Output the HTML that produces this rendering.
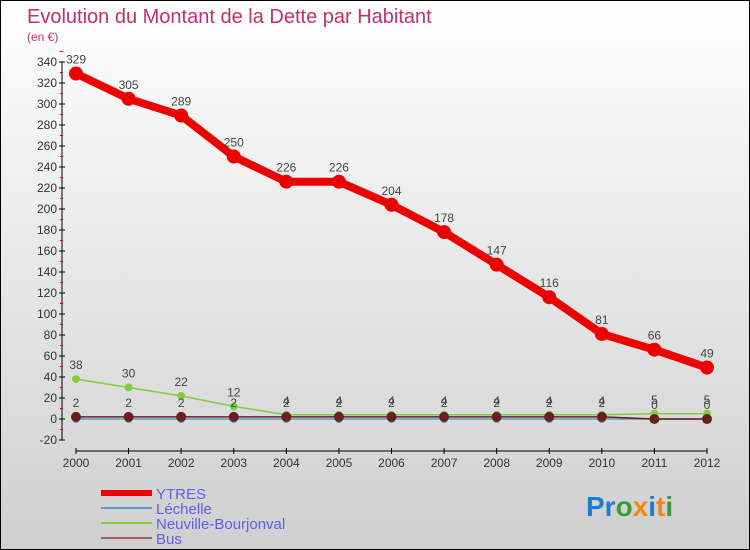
<!DOCTYPE html>
<html><head><meta charset="utf-8"><style>
body{margin:0}
#c{width:750px;height:550px;position:relative;box-sizing:border-box;border:1px solid #000;background:linear-gradient(#ffffff,#cfcfcf);font-family:"Liberation Sans",sans-serif;overflow:hidden}
</style></head><body>
<div id="c">
<svg id="s" width="750" height="550" style="position:absolute;left:0;top:0">
<text x="26" y="22" font-size="20" fill="#c0306a">Evolution du Montant de la Dette par Habitant</text>
<text x="26" y="40" font-size="12" fill="#c0306a">(en €)</text>
<g id="grid"></g>
<g id="series"></g>
<g id="legend"></g>
<text x="585" y="515" font-size="28" font-weight="bold"><tspan fill="#1a7ed6">Pr</tspan><tspan fill="#3a9a3a">o</tspan><tspan fill="#f08a10">x</tspan><tspan fill="#1a7ed6">i</tspan><tspan fill="#f08a10">t</tspan><tspan fill="#3a9a3a">i</tspan></text>
</svg>
</div>
<script>
const years=[2000,2001,2002,2003,2004,2005,2006,2007,2008,2009,2010,2011,2012];
const ytres=[329,305,289,250,226,226,204,178,147,116,81,66,49];
const lechelle=[0,0,0,0,0,0,0,0,0,0,0,0,0];
const neuville=[38,30,22,12,4,4,4,4,4,4,4,5,5];
const bus=[2,2,2,2,2,2,2,2,2,2,2,0,0];
const yTicks=[-20,0,20,40,60,80,100,120,140,160,180,200,220,240,260,280,300,320,340];
const NS="http://www.w3.org/2000/svg";
const X=i=>75+i*(706-75)/12;
const Y=v=>418-v*1.05;
function mk(tag,attrs,parent,txt){const e=document.createElementNS(NS,tag);for(const k in attrs)e.setAttribute(k,attrs[k]);if(txt!==undefined)e.textContent=txt;parent.appendChild(e);return e;}
const g=document.getElementById('grid'),sg=document.getElementById('series'),lg=document.getElementById('legend');
let a=mk('line',{x1:61,y1:Y(340),x2:61,y2:Y(-20),stroke:'#000'},g);


a=mk('line',{x1:75,y1:450,x2:706,y2:450,stroke:'#000'},g);


yTicks.forEach(v=>{
 mk('line',{x1:58,y1:Y(v),x2:64,y2:Y(v),stroke:'#000'},g);
 mk('line',{x1:59,y1:Y(v+10),x2:62,y2:Y(v+10),stroke:'#e00'},g);
 const t=mk('text',{x:56,y:Y(v)+4,'font-size':12,fill:'#333','text-anchor':'end'},g,v);
 
 
});
years.forEach((yr,i)=>{
 mk('line',{x1:X(i),y1:447,x2:X(i),y2:453,stroke:'#000'},g);
 const t=mk('text',{x:X(i),y:466,'font-size':12,fill:'#333','text-anchor':'middle'},g,yr);
 
 
});
function series(vals,color,w,r,name,labels){
 const grp=mk('g',{},sg);
 
 
 mk('polyline',{points:vals.map((v,i)=>X(i)+','+Y(v)).join(' '),fill:'none',stroke:color,'stroke-width':w,'stroke-linejoin':'round'},grp);
 vals.forEach((v,i)=>{
  const c=mk('circle',{cx:X(i),cy:Y(v),r:r,fill:color},grp);
  
  
  if(labels){const t=mk('text',{x:X(i),y:Y(v)-10,'font-size':12,fill:'#444','text-anchor':'middle'},grp,v);
  
  }
 });
}
series(lechelle,'#5a9ec8',1.5,4,'lechelle',false);
series(neuville,'#7fd040',1.5,4,'neuville',true);
series(bus,'#6a1e1e',1.5,5,'bus',true);
series(ytres,'#ee0000',8,7,'ytres',true);
const leg=[['YTRES','#ee0000',6],['Léchelle','#5a9ec8',2],['Neuville-Bourjonval','#7fd040',2],['Bus','#a06060',2]];
leg.forEach((l,i)=>{
 const y=492+i*15;
 const ln=mk('line',{x1:100,y1:y,x2:151,y2:y,stroke:l[1],'stroke-width':l[2]},lg);
 
 
 const t=mk('text',{x:155,y:y+6,'font-size':15,fill:'#6060e8'},lg,l[0]);
 
 
});
</script>
</body></html>
